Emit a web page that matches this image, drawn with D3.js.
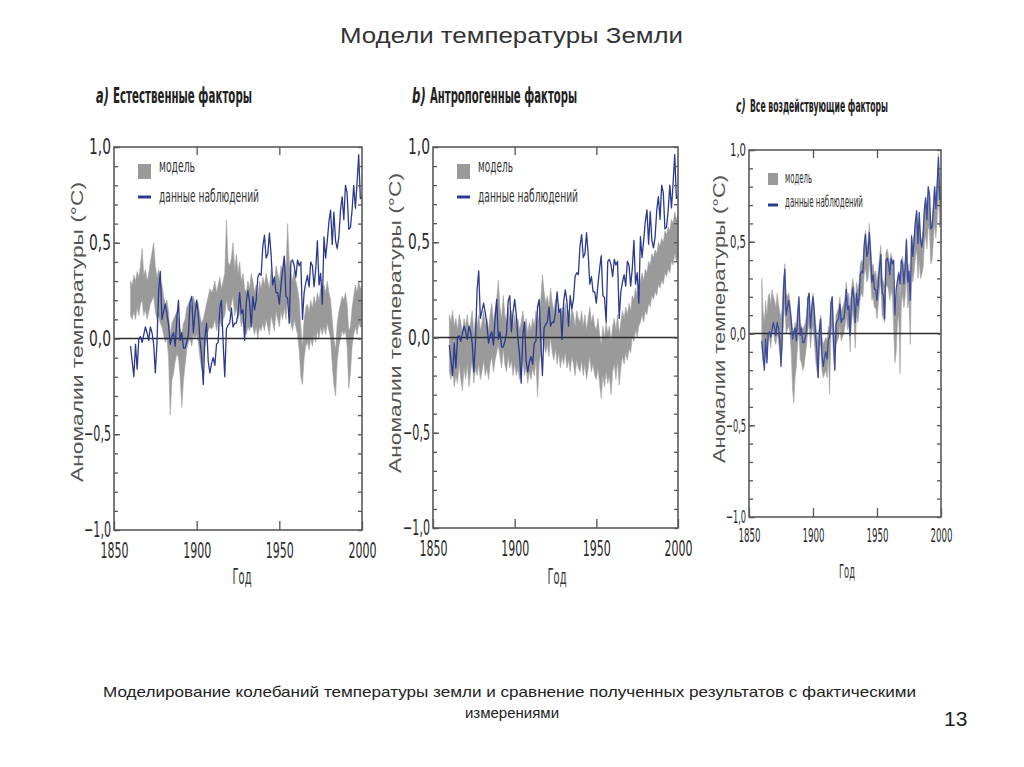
<!DOCTYPE html>
<html><head><meta charset="utf-8">
<script src="https://cdn.jsdelivr.net/npm/d3@7/dist/d3.min.js"></script>
<style>
html,body{margin:0;padding:0;background:#fff;}
svg{display:block;}
</style></head>
<body>
<svg id="c" width="1024" height="767"></svg>
<script>
// ---- DATA ----
const years = d3.range(1860, 2001);
const observed = [
 -0.04,-0.12,-0.20,-0.03,-0.16,0.00,0.01,-0.02,0.02,0.06,
 0.03,-0.01,0.06,0.03,-0.03,-0.18,-0.02,0.25,0.35,0.10,
 0.14,0.18,0.13,0.07,-0.03,0.01,0.03,-0.04,0.10,0.20,
 -0.01,0.03,-0.05,-0.05,-0.02,0.02,0.19,0.22,0.03,0.13,
 0.20,0.12,-0.01,-0.09,-0.24,0.01,0.08,-0.12,-0.18,-0.13,
 -0.10,-0.14,-0.03,-0.02,0.16,0.20,-0.02,-0.20,0.05,0.07,
 0.08,0.16,0.06,0.08,0.08,0.13,0.24,0.13,0.15,-0.01,
 0.19,0.25,0.19,0.06,0.22,0.15,0.20,0.32,0.34,0.33,
 0.48,0.54,0.42,0.44,0.55,0.44,0.28,0.32,0.24,0.24,
 0.18,0.28,0.36,0.43,0.22,0.21,0.08,0.40,0.41,0.38,
 0.32,0.41,0.38,0.40,0.10,0.24,0.29,0.33,0.27,0.40,
 0.38,0.27,0.36,0.51,0.28,0.34,0.18,0.53,0.42,0.51,
 0.61,0.67,0.49,0.66,0.51,0.47,0.53,0.67,0.74,0.62,
 0.80,0.76,0.57,0.58,0.67,0.80,0.68,0.81,0.96,0.73,
 0.74];

const naturalHigh = [
 0.30,0.28,0.33,0.30,0.35,0.32,0.38,0.47,0.33,0.36,
 0.30,0.34,0.40,0.45,0.50,0.38,0.32,0.36,0.30,0.28,
 0.22,0.18,0.20,0.14,0.02,0.08,0.10,0.12,0.14,0.10,
 0.05,0.02,0.08,0.10,0.16,0.18,0.20,0.16,0.22,0.18,
 0.20,0.18,0.12,0.08,0.10,0.14,0.18,0.22,0.26,0.24,
 0.26,0.30,0.24,0.28,0.32,0.26,0.30,0.34,0.62,0.40,
 0.38,0.42,0.50,0.36,0.44,0.34,0.40,0.30,0.34,0.26,
 0.24,0.30,0.26,0.34,0.30,0.24,0.28,0.22,0.30,0.26,
 0.32,0.28,0.34,0.30,0.26,0.36,0.32,0.28,0.38,0.34,
 0.30,0.38,0.34,0.42,0.36,0.60,0.40,0.34,0.30,0.36,
 0.30,0.26,0.20,0.06,-0.04,0.10,0.16,0.18,0.14,0.20,
 0.16,0.22,0.18,0.24,0.20,0.26,0.22,0.28,0.24,0.30,
 0.24,0.20,0.10,0.00,-0.06,0.08,0.14,0.18,0.22,0.20,
 0.24,0.18,0.04,0.06,0.16,0.22,0.28,0.24,0.30,0.26,
 0.28];
const naturalLow = [
 0.12,0.10,0.14,0.10,0.16,0.12,0.18,0.20,0.12,0.15,
 0.10,0.14,0.18,0.20,0.22,0.14,0.10,0.12,0.08,0.06,
 0.02,-0.02,0.00,-0.10,-0.40,-0.22,-0.18,-0.12,-0.08,-0.10,
 -0.20,-0.36,-0.22,-0.14,-0.06,-0.02,0.00,-0.04,0.02,0.00,
 0.02,-0.02,-0.10,-0.16,-0.12,-0.04,0.00,0.04,0.06,0.05,
 0.06,0.10,0.04,0.08,0.10,0.06,0.10,0.12,0.20,0.15,
 0.14,0.18,0.22,0.12,0.16,0.10,0.14,0.06,0.10,0.04,
 0.02,0.06,0.04,0.10,0.06,0.02,0.06,0.00,0.06,0.04,
 0.08,0.04,0.10,0.06,0.02,0.12,0.08,0.04,0.14,0.10,
 0.06,0.14,0.10,0.16,0.10,0.22,0.12,0.08,0.04,0.10,
 0.06,0.02,-0.06,-0.20,-0.24,-0.10,-0.04,-0.02,-0.06,0.00,
 -0.04,0.02,-0.02,0.04,0.00,0.06,0.02,0.06,0.02,0.08,
 0.04,0.00,-0.14,-0.24,-0.30,-0.12,-0.04,0.00,0.04,0.02,
 0.04,-0.04,-0.26,-0.18,-0.04,0.02,0.06,0.02,0.08,0.06,
 0.06];

const anthroHigh = [
 0.12,0.08,0.14,0.06,0.10,0.04,0.12,0.08,0.02,0.10,
 0.06,0.12,0.04,0.08,0.14,0.02,0.10,0.06,0.12,0.04,
 0.08,0.14,0.06,0.10,0.04,0.12,0.18,0.08,0.14,0.20,
 0.30,0.16,0.10,0.22,0.12,0.08,0.16,0.10,0.14,0.06,
 0.12,0.06,0.10,0.04,0.08,0.14,0.06,0.10,0.02,0.08,
 0.04,0.10,0.06,0.14,0.08,0.12,0.20,0.33,0.24,0.18,
 0.22,0.16,0.26,0.18,0.14,0.20,0.12,0.18,0.10,0.16,
 0.12,0.18,0.10,0.14,0.08,0.16,0.12,0.06,0.14,0.10,
 0.08,0.14,0.06,0.12,0.04,0.10,0.16,0.08,0.12,0.06,
 0.04,0.10,0.02,-0.04,0.06,0.00,0.08,0.02,0.06,-0.02,
 0.06,0.10,0.04,0.12,0.02,0.08,0.14,0.10,0.16,0.12,
 0.18,0.14,0.22,0.20,0.26,0.22,0.28,0.30,0.34,0.30,
 0.36,0.34,0.40,0.38,0.44,0.42,0.46,0.44,0.50,0.48,
 0.52,0.50,0.56,0.54,0.58,0.56,0.62,0.60,0.66,0.62,
 0.64];
const anthroLow = [
 -0.18,-0.22,-0.16,-0.26,-0.20,-0.24,-0.14,-0.22,-0.28,-0.16,
 -0.22,-0.14,-0.26,-0.18,-0.12,-0.24,-0.16,-0.20,-0.14,-0.22,
 -0.18,-0.12,-0.20,-0.16,-0.22,-0.14,-0.10,-0.18,-0.12,-0.08,
 -0.04,-0.10,-0.16,-0.06,-0.14,-0.18,-0.10,-0.16,-0.12,-0.20,
 -0.14,-0.20,-0.16,-0.22,-0.18,-0.12,-0.20,-0.16,-0.24,-0.18,
 -0.22,-0.16,-0.20,-0.12,-0.31,-0.14,-0.08,0.00,-0.04,-0.08,
 -0.04,-0.10,0.00,-0.08,-0.12,-0.06,-0.14,-0.08,-0.16,-0.10,
 -0.14,-0.08,-0.16,-0.12,-0.18,-0.10,-0.14,-0.20,-0.12,-0.16,
 -0.18,-0.12,-0.20,-0.14,-0.22,-0.16,-0.10,-0.18,-0.14,-0.20,
 -0.22,-0.16,-0.24,-0.32,-0.20,-0.26,-0.18,-0.24,-0.20,-0.30,
 -0.18,-0.14,-0.22,-0.12,-0.25,-0.16,-0.10,-0.14,-0.08,-0.12,
 -0.06,-0.08,0.00,-0.02,0.04,0.00,0.06,0.08,0.12,0.08,
 0.14,0.12,0.18,0.16,0.22,0.20,0.24,0.22,0.28,0.26,
 0.30,0.28,0.34,0.32,0.36,0.34,0.40,0.38,0.44,0.40,
 0.42];

const allHigh = [
 0.30,0.12,0.06,0.18,0.10,0.20,0.22,0.16,0.24,0.20,
 0.18,0.14,0.22,0.16,0.12,0.08,0.14,0.30,0.38,0.22,
 0.20,0.22,0.18,0.10,0.02,0.00,0.06,0.04,0.12,0.18,
 0.06,0.04,0.02,0.04,0.06,0.10,0.20,0.22,0.10,0.16,
 0.22,0.14,0.06,0.00,-0.04,0.06,0.10,-0.02,-0.06,-0.04,
 -0.02,-0.04,0.04,0.00,0.18,0.20,0.06,-0.02,0.10,0.12,
 0.14,0.20,0.12,0.14,0.16,0.20,0.28,0.20,0.22,0.10,
 0.24,0.30,0.26,0.16,0.28,0.24,0.28,0.38,0.40,0.38,
 0.50,0.56,0.46,0.50,0.60,0.48,0.36,0.38,0.32,0.34,
 0.28,0.34,0.42,0.48,0.30,0.28,0.26,0.44,0.46,0.42,
 0.38,0.44,0.40,0.30,0.08,0.16,0.26,0.34,0.18,0.40,
 0.42,0.34,0.40,0.52,0.34,0.38,0.08,0.54,0.48,0.54,
 0.62,0.66,0.52,0.62,0.50,0.52,0.56,0.68,0.74,0.66,
 0.78,0.76,0.58,0.62,0.70,0.80,0.72,0.82,0.98,0.78,
 0.80];
const allLow = [
 -0.08,-0.16,-0.18,-0.06,-0.14,-0.04,-0.02,-0.08,0.00,0.02,
 -0.04,-0.06,0.00,-0.04,-0.10,-0.14,-0.08,0.08,0.16,0.00,
 0.02,0.04,0.00,-0.10,-0.30,-0.38,-0.24,-0.18,-0.06,0.02,
 -0.14,-0.16,-0.20,-0.18,-0.12,-0.06,0.02,0.06,-0.08,0.00,
 0.04,-0.04,-0.14,-0.20,-0.24,-0.08,-0.06,-0.20,-0.24,-0.22,
 -0.20,-0.24,-0.12,-0.33,0.00,0.04,-0.12,-0.20,-0.06,-0.04,
 -0.02,0.04,-0.04,-0.02,0.00,0.04,0.10,0.02,0.04,-0.10,
 0.06,0.12,0.06,-0.08,0.10,0.06,0.12,0.20,0.22,0.20,
 0.32,0.36,0.28,0.30,0.40,0.30,0.18,0.20,0.14,0.14,
 0.08,0.16,0.24,0.28,0.10,0.08,0.06,0.26,0.26,0.24,
 0.18,0.24,0.20,0.04,-0.16,-0.10,0.06,0.10,-0.22,0.16,
 0.22,0.14,0.20,0.32,0.14,0.18,-0.06,0.34,0.28,0.34,
 0.42,0.46,0.30,0.40,0.30,0.32,0.36,0.48,0.54,0.46,
 0.58,0.56,0.38,0.40,0.50,0.60,0.52,0.62,0.76,0.58,
 0.60];

const yTicks = [-1, -0.5, 0, 0.5, 1];
const xTicks = [1850, 1900, 1950, 2000];
const mainTitle = "Модели температуры Земли";
const panelTitles = [["a)", "Естественные факторы"], ["b)", "Антропогенные факторы"], ["c)", "Все воздействующие факторы"]];
const legendLabels = ["модель", "данные наблюдений"];
const yLabel = "Аномалии температуры (°С)";
const xLabel = "Год";
const caption = ["Моделирование колебаний температуры земли и сравнение полученных результатов с фактическими", "измерениями"];
const slideNo = "13";

// ---- DRAW ----
const svg = d3.select("#c");
const NARROW = "'Liberation Sans Narrow','Arial Narrow','DejaVu Sans Condensed',sans-serif";
const SANS = "'Liberation Sans',Arial,sans-serif";

svg.append("text").attr("x", 340).attr("y", 43).attr("font-family", SANS).attr("font-size", 22)
  .attr("fill", "#333").attr("textLength", 343).attr("lengthAdjust", "spacingAndGlyphs").text(mainTitle);

const panels = [
  {x0:114, x1:362, yT:147, yB:530, lo:naturalLow, hi:naturalHigh, title:panelTitles[0],
   tx:96, tx2:113, tLen:139, tY:103, tFs:21, tSx:0.6,
   leg:{x:138, sq:[164,15], ty1:172, ty2:202, dashY:197, len1:36, len2:100, fs:18, tx:159},
   yl:{cx:83, cy:332, len:300, fs:17}, xl:{x:242, y:584, fs:21, len:19},
   tickFs:21, xLabLen:28, yLab3:22, yLab4:27, pad:13, ylFs:21, obsColor:"#2b3a8f"},
  {x0:433, x1:678, yT:147, yB:528, lo:anthroLow, hi:anthroHigh, title:panelTitles[1],
   tx:412, tx2:430, tLen:147, tY:103, tFs:21, tSx:0.62,
   leg:{x:457, sq:[164,15], ty1:172, ty2:202, dashY:197, len1:35, len2:100, fs:18, tx:478},
   yl:{cx:401, cy:323, len:300, fs:17}, xl:{x:557, y:584, fs:21, len:19},
   tickFs:21, xLabLen:28, yLab3:22, yLab4:27, pad:13, ylFs:21, obsColor:"#2b3a8f"},
  {x0:749, x1:941, yT:150, yB:517, lo:allLow, hi:allHigh, title:panelTitles[2],
   tx:736, tx2:750, tLen:138, tY:112, tFs:17, tSx:0.6,
   leg:{x:768, sq:[173,12], ty1:183, ty2:207, dashY:205, len1:27, len2:78, fs:15, tx:785},
   yl:{cx:725, cy:319, len:288, fs:16}, xl:{x:847, y:578, fs:19, len:16},
   tickFs:19, xLabLen:22, yLab3:16, yLab4:20, pad:12, ylFs:18, obsColor:"#3b4a9c"}
];

panels.forEach(p => {
  const x = d3.scaleLinear().domain([1850, 2000]).range([p.x0, p.x1]);
  const y = d3.scaleLinear().domain([-1, 1]).range([p.yB, p.yT]);
  const g = svg.append("g");

  // model band
  const area = d3.area().x((d, i) => x(years[i])).y0((d, i) => y(p.lo[i])).y1((d, i) => y(p.hi[i]));
  g.append("path").datum(years).attr("d", area).attr("fill", "#9a9a9a").attr("stroke", "#a4a4a4").attr("stroke-width", 0.6);

  // zero line
  g.append("line").attr("x1", x(1850)).attr("x2", x(2000)).attr("y1", y(0)).attr("y2", y(0))
    .attr("stroke", "#2a2a2a").attr("stroke-width", 1.6);

  // observations
  const line = d3.line().x((d, i) => x(years[i])).y(d => y(d));
  g.append("path").datum(observed).attr("d", line).attr("fill", "none")
    .attr("stroke", p.obsColor).attr("stroke-width", 1.3).attr("stroke-linejoin", "round");

  // minor ticks
  const minor = d3.range(-10, 11).map(v => v / 10);
  const axL = g.append("g").attr("transform", `translate(${p.x0},0)`)
    .call(d3.axisLeft(y).tickValues(minor).tickSize(-4).tickFormat(""));
  const axR = g.append("g").attr("transform", `translate(${p.x1},0)`)
    .call(d3.axisRight(y).tickValues(minor).tickSize(-4).tickFormat(""));
  // major Y with labels
  const fmt = v => d3.format(".1f")(v).replace(".", ",");
  const axLM = g.append("g").attr("transform", `translate(${p.x0},0)`)
    .call(d3.axisLeft(y).tickValues(yTicks).tickSizeInner(-6).tickSizeOuter(0).tickPadding(3).tickFormat(fmt));
  axLM.selectAll("text").attr("font-family", NARROW).attr("font-size", p.ylFs).attr("fill", "#2a2a2a")
    .attr("textLength", d => d < 0 ? p.yLab4 : p.yLab3).attr("lengthAdjust", "spacingAndGlyphs");
  // X bottom
  const axB = g.append("g").attr("transform", `translate(0,${p.yB})`)
    .call(d3.axisBottom(x).tickValues(xTicks).tickSizeInner(-9).tickSizeOuter(0).tickPadding(p.pad).tickFormat(d3.format("d")));
  axB.selectAll("text").attr("font-family", NARROW).attr("font-size", p.tickFs).attr("fill", "#2a2a2a")
    .attr("textLength", p.xLabLen).attr("lengthAdjust", "spacingAndGlyphs");
  const axT = g.append("g").attr("transform", `translate(0,${p.yT})`)
    .call(d3.axisTop(x).tickValues([1900, 1950]).tickSizeInner(-8).tickSizeOuter(0).tickFormat(""));
  [axL, axR, axLM, axB, axT].forEach(a => {
    a.select(".domain").remove();
    a.selectAll("line").attr("stroke", "#555").attr("stroke-width", 1.3);
  });

  // frame
  g.append("rect").attr("x", p.x0).attr("y", p.yT).attr("width", p.x1 - p.x0).attr("height", p.yB - p.yT)
    .attr("fill", "none").attr("stroke", "#5a5a5a").attr("stroke-width", 1.6);

  // panel title: italic letter (horizontally scaled) + bold title
  g.append("text").attr("transform", `translate(${p.tx},${p.tY}) scale(${p.tSx},1)`)
    .attr("font-family", NARROW).attr("font-size", p.tFs)
    .attr("font-weight", "bold").attr("font-style", "italic").attr("fill", "#222").text(p.title[0]);
  g.append("text").attr("x", p.tx2).attr("y", p.tY).attr("font-family", NARROW).attr("font-size", p.tFs)
    .attr("font-weight", "bold").attr("fill", "#222").attr("textLength", p.tLen)
    .attr("lengthAdjust", "spacingAndGlyphs").text(p.title[1]);

  // legend
  const L = p.leg;
  g.append("rect").attr("x", L.x).attr("y", L.sq[0]).attr("width", L.sq[1] - 2).attr("height", L.sq[1]).attr("fill", "#9a9a9a");
  g.append("line").attr("x1", L.x).attr("x2", L.x + L.sq[1] - 2).attr("y1", L.dashY).attr("y2", L.dashY)
    .attr("stroke", "#2b3a8f").attr("stroke-width", 3);
  g.append("text").attr("x", L.tx).attr("y", L.ty1).attr("font-family", NARROW).attr("font-size", L.fs)
    .attr("fill", "#333").attr("textLength", L.len1).attr("lengthAdjust", "spacingAndGlyphs").text(legendLabels[0]);
  g.append("text").attr("x", L.tx).attr("y", L.ty2).attr("font-family", NARROW).attr("font-size", L.fs)
    .attr("fill", "#333").attr("textLength", L.len2).attr("lengthAdjust", "spacingAndGlyphs").text(legendLabels[1]);

  // axis labels
  g.append("text").attr("transform", `translate(${p.yl.cx},${p.yl.cy}) rotate(-90)`).attr("text-anchor", "middle")
    .attr("font-family", SANS).attr("font-size", p.yl.fs).attr("fill", "#555")
    .attr("textLength", p.yl.len).attr("lengthAdjust", "spacingAndGlyphs").text(yLabel);
  g.append("text").attr("x", p.xl.x).attr("y", p.xl.y).attr("text-anchor", "middle")
    .attr("font-family", NARROW).attr("font-size", p.xl.fs).attr("fill", "#333")
    .attr("textLength", p.xl.len).attr("lengthAdjust", "spacingAndGlyphs").text(xLabel);
});

// caption
svg.append("text").attr("x", 103).attr("y", 697).attr("font-family", SANS).attr("font-size", 15)
  .attr("fill", "#222").attr("textLength", 813).attr("lengthAdjust", "spacingAndGlyphs").text(caption[0]);
svg.append("text").attr("x", 512).attr("y", 718).attr("text-anchor", "middle").attr("font-family", SANS)
  .attr("font-size", 15).attr("fill", "#222").text(caption[1]);
svg.append("text").attr("x", 944).attr("y", 726).attr("font-family", SANS).attr("font-size", 21)
  .attr("fill", "#222").text(slideNo);
</script>
</body></html>
